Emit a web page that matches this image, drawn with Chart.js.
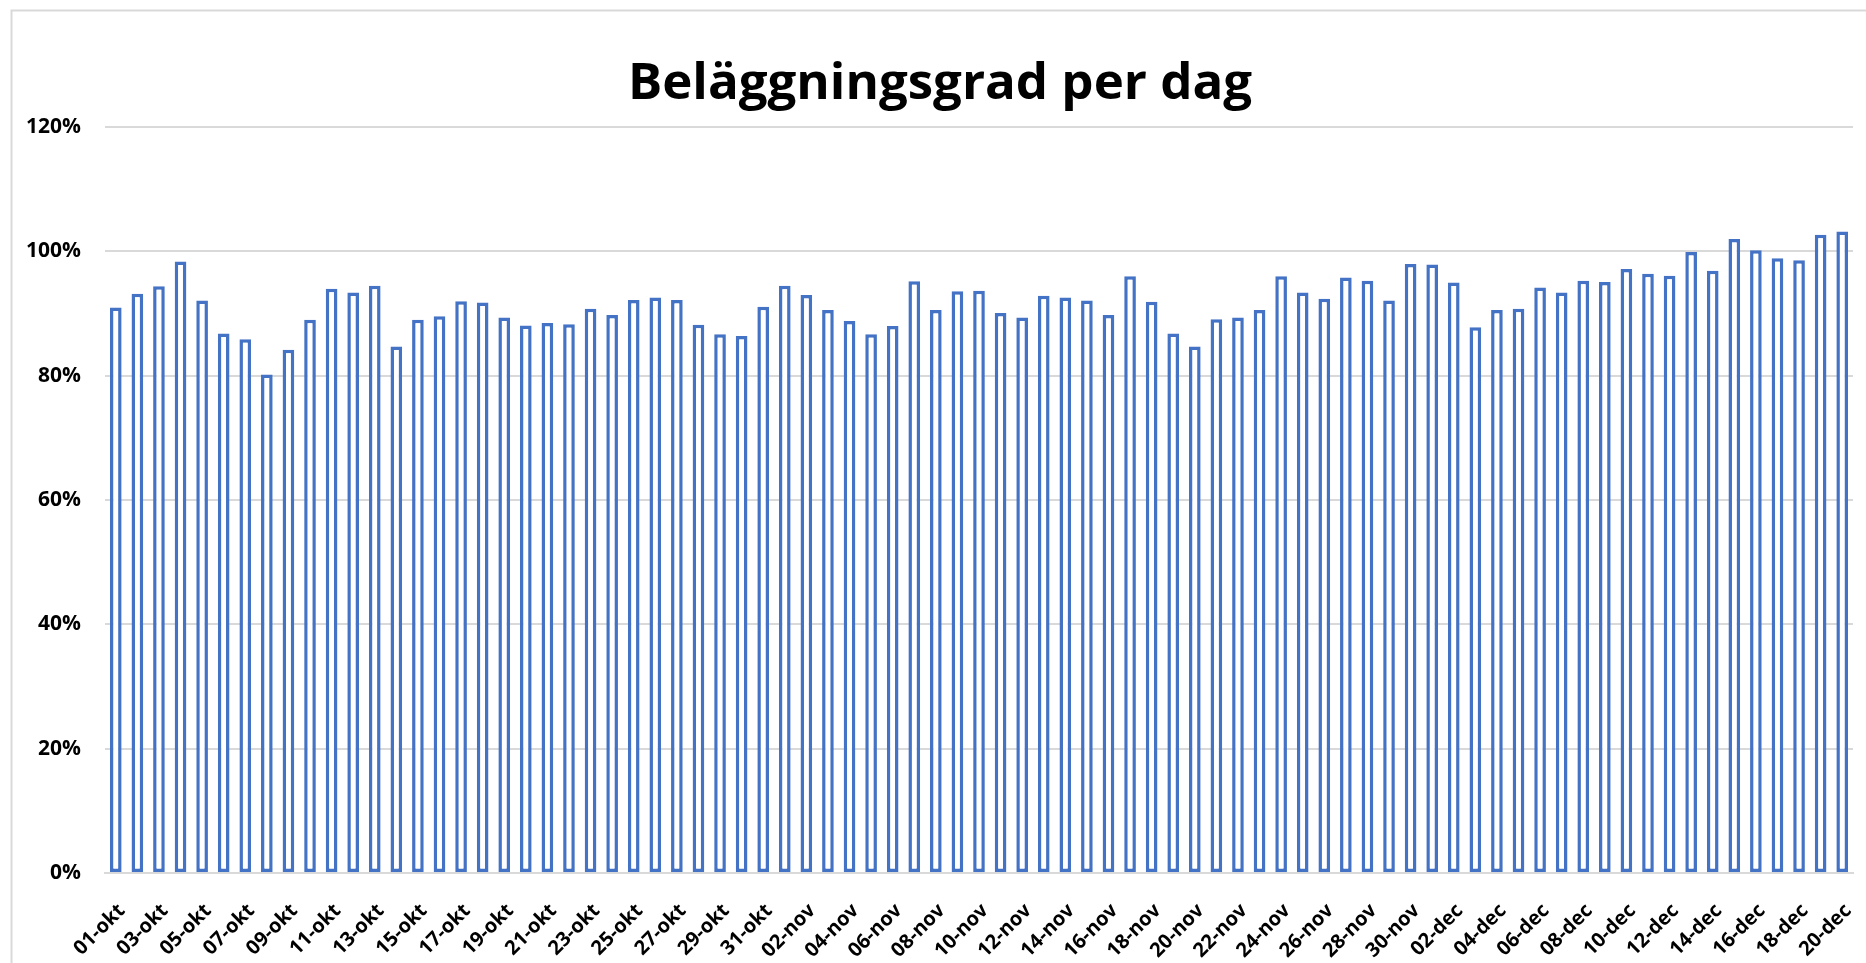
<!DOCTYPE html>
<html>
<head>
<meta charset="utf-8">
<script src="https://cdn.jsdelivr.net/npm/chart.js@4.4.1/dist/chart.umd.min.js"></script>
<style>
  html, body { margin: 0; padding: 0; background: #ffffff; }
  #wrap { position: relative; width: 1866px; height: 963px; }
</style>
</head>
<body>
<div id="wrap"><canvas id="c" width="1866" height="963"></canvas></div>
<script>
const titleText = "Beläggningsgrad per dag";

const oktDays = ["01-okt","02-okt","03-okt","04-okt","05-okt","06-okt","07-okt","08-okt","09-okt","10-okt","11-okt","12-okt","13-okt","14-okt","15-okt","16-okt","17-okt","18-okt","19-okt","20-okt","21-okt","22-okt","23-okt","24-okt","25-okt","26-okt","27-okt","28-okt","29-okt","30-okt","31-okt"];
const novDays = ["01-nov","02-nov","03-nov","04-nov","05-nov","06-nov","07-nov","08-nov","09-nov","10-nov","11-nov","12-nov","13-nov","14-nov","15-nov","16-nov","17-nov","18-nov","19-nov","20-nov","21-nov","22-nov","23-nov","24-nov","25-nov","26-nov","27-nov","28-nov","29-nov","30-nov"];
const decDays = ["01-dec","02-dec","03-dec","04-dec","05-dec","06-dec","07-dec","08-dec","09-dec","10-dec","11-dec","12-dec","13-dec","14-dec","15-dec","16-dec","17-dec","18-dec","19-dec","20-dec"];

const oktValues = [91.0, 93.2, 94.4, 98.4, 92.1, 86.8, 85.9, 80.2, 84.2, 89.0, 94.0, 93.4, 94.5, 84.7, 89.0, 89.6, 92.0, 91.8, 89.4, 88.1, 88.5, 88.3, 90.8, 89.8, 92.2, 92.6, 92.2, 88.2, 86.7, 86.4, 91.1];
const novValues = [94.5, 93.0, 90.6, 88.8, 86.7, 88.0, 95.2, 90.6, 93.6, 93.7, 90.1, 89.4, 92.9, 92.6, 92.1, 89.8, 96.0, 91.9, 86.8, 84.7, 89.1, 89.4, 90.6, 96.0, 93.4, 92.4, 95.8, 95.3, 92.1, 98.0];
const decValues = [97.9, 95.0, 87.8, 90.6, 90.8, 94.2, 93.4, 95.3, 95.1, 97.2, 96.4, 96.1, 99.9, 96.9, 102.0, 100.2, 98.9, 98.6, 102.7, 103.2];

const yTicks = [0, 20, 40, 60, 80, 100, 120];

const categories = oktDays.concat(novDays, decDays);
const values = oktValues.concat(novValues, decValues);

const framePlugin = {
  id: 'frame',
  beforeDraw(chart) {
    const ctx = chart.ctx;
    ctx.save();
    ctx.fillStyle = '#ffffff';
    ctx.fillRect(0, 0, chart.width, chart.height);
    ctx.strokeStyle = '#d9d9d9';
    ctx.lineWidth = 2;
    ctx.strokeRect(11.5, 10.5, chart.width + 20, chart.height + 20);
    ctx.restore();
  }
};

new Chart(document.getElementById('c'), {
  type: 'bar',
  data: {
    labels: categories,
    datasets: [{
      data: values,
      backgroundColor: '#ffffff',
      borderColor: '#4472C4',
      borderWidth: 3.5,
      borderSkipped: false,
      barPercentage: 0.54,
      categoryPercentage: 1.0
    }]
  },
  options: {
    responsive: false,
    animation: false,
    devicePixelRatio: 1,
    layout: { padding: { left: 27, right: 13, top: 0, bottom: 0 } },
    plugins: {
      legend: { display: false },
      tooltip: { enabled: false },
      title: {
        display: true,
        text: titleText,
        color: '#000000',
        font: { family: 'Open Sans', size: 51, weight: 'bold' },
        padding: { top: 54, bottom: 12 }
      }
    },
    scales: {
      x: {
        grid: { display: false, drawTicks: false },
        border: { display: true, color: '#d9d9d9', width: 2 },
        afterFit(scale) { scale.height = 90; scale.paddingRight = 0; },
        ticks: {
          autoSkip: false,
          minRotation: 45,
          maxRotation: 45,
          padding: 26,
          labelOffset: 6,
          color: '#000000',
          font: { family: 'Open Sans', size: 20, weight: 'bold' },
          callback(value, index) { return index % 2 === 0 ? categories[index] : ''; }
        }
      },
      y: {
        min: yTicks[0],
        max: yTicks[yTicks.length - 1],
        afterBuildTicks(scale) { scale.ticks = yTicks.map(v => ({ value: v })); },
        afterFit(scale) { scale.width = 78; },
        grid: { color: '#d9d9d9', lineWidth: 2, drawTicks: false },
        border: { display: false },
        ticks: {
          padding: 24,
          color: '#000000',
          font: { family: 'Open Sans', size: 21, weight: 'bold' },
          callback(v) { return v + '%'; }
        }
      }
    }
  },
  plugins: [framePlugin]
});
</script>
</body>
</html>
